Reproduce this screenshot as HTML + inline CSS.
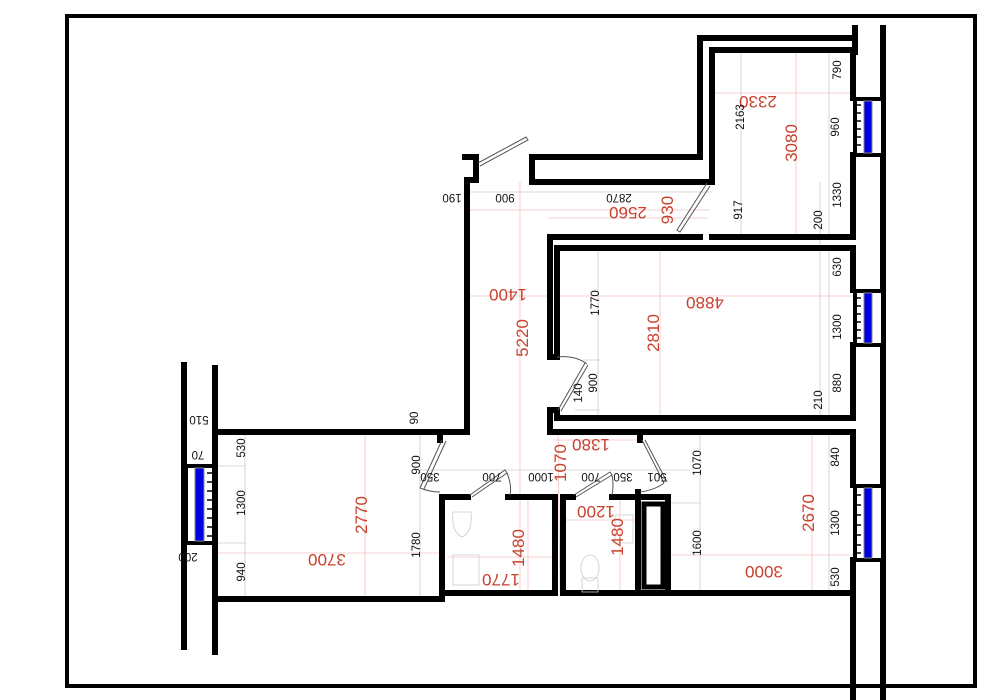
<!DOCTYPE html>
<html><head><meta charset="utf-8"><style>
html,body{margin:0;padding:0;background:#fff;}
svg{display:block;}
.w{fill:none;stroke:#000;stroke-width:6;stroke-linejoin:miter;stroke-linecap:square}
.r{font-family:"Liberation Sans",sans-serif;font-size:17px;fill:#c8412e}
.b{font-family:"Liberation Sans",sans-serif;font-size:11.5px;fill:#111}
.d{stroke:#f0c4c0;stroke-width:0.8;fill:none}
.g{stroke:#ccc;stroke-width:0.8;fill:none}
.dr{fill:none;stroke:#555;stroke-width:1}
</style></head><body>
<svg width="990" height="700" viewBox="0 0 990 700" xmlns="http://www.w3.org/2000/svg">
<rect x="67" y="16" width="908" height="670" fill="none" stroke="#000" stroke-width="4"/>

<g class="d">
<line x1="467" y1="210" x2="710" y2="210"/>
<line x1="548" y1="218" x2="708" y2="218"/>
<line x1="712" y1="93" x2="853" y2="93"/>
<line x1="467" y1="296" x2="853" y2="296"/>
<line x1="520" y1="182" x2="520" y2="595"/>
<line x1="558" y1="432" x2="560" y2="595"/>
<line x1="553" y1="440" x2="640" y2="440"/>
<line x1="660" y1="248" x2="660" y2="418"/>
<line x1="796" y1="50" x2="796" y2="237"/>
<line x1="215" y1="553" x2="440" y2="553"/>
<line x1="365" y1="432" x2="365" y2="599"/>
<line x1="668" y1="555" x2="853" y2="555"/>
<line x1="812" y1="432" x2="812" y2="595"/>
<line x1="447" y1="557" x2="555" y2="557"/>
<line x1="528" y1="497" x2="528" y2="595"/>
<line x1="564" y1="520" x2="638" y2="520"/>
<line x1="620" y1="497" x2="620" y2="595"/>
</g>
<g class="g">
<line x1="467" y1="192" x2="712" y2="192"/>
<line x1="420" y1="470" x2="690" y2="470"/>
<line x1="741" y1="50" x2="741" y2="237"/>
<line x1="820" y1="182" x2="820" y2="418"/>
<line x1="829" y1="50" x2="829" y2="237"/>
<line x1="829" y1="248" x2="829" y2="418"/>
<line x1="598" y1="248" x2="598" y2="418"/>
<line x1="583" y1="360" x2="600" y2="360"/>
<line x1="575" y1="410" x2="600" y2="410"/>
<line x1="245" y1="432" x2="245" y2="599"/>
<line x1="215" y1="466" x2="245" y2="466"/>
<line x1="215" y1="543" x2="245" y2="543"/>
<line x1="420" y1="432" x2="420" y2="599"/>
<line x1="700" y1="432" x2="700" y2="595"/>
<line x1="829" y1="432" x2="829" y2="595"/>
<line x1="668" y1="503" x2="700" y2="503"/>
</g>

<g class="w">
<polyline points="855,38 700,38 700,157 532,157 532,182 712,182 712,50 853,50 853,98"/>
<line x1="855" y1="28" x2="855" y2="52"/>
<polyline points="853,155 853,237 712,237"/>
<polyline points="700,237 550,237 550,357 557,357 557,248 853,248 853,290"/>
<polyline points="853,345 853,418 557,418 557,410 550,410 550,432 640,432"/>
<polyline points="640,440 640,432 853,432 853,485"/>
<line x1="853" y1="560" x2="853" y2="700"/>
<line x1="883" y1="28" x2="883" y2="700"/>
<polyline points="465,157 476,157 476,180 467,180 467,432 440,432 440,440"/>
<polyline points="440,432 216,432"/>
<line x1="184" y1="365" x2="184" y2="647"/>
<line x1="215" y1="368" x2="215" y2="652"/>
<polyline points="216,599 442,599 442,497 468,497"/>
<polyline points="508,497 555,497 555,593 442,593"/>
<polyline points="563,497 573,497"/>
<polyline points="612,497 638,497 638,492"/>
<polyline points="563,497 563,593 853,593"/>
<line x1="638" y1="492" x2="638" y2="593"/>
<line x1="668" y1="497" x2="668" y2="593"/>
<line x1="638" y1="497" x2="668" y2="497"/>
</g>
<rect x="644" y="504" width="19" height="83" fill="none" stroke="#000" stroke-width="5"/>

<g>
<rect x="855" y="99" width="28" height="56" fill="#fff" stroke="#000" stroke-width="4"/>
<rect x="864" y="101" width="8" height="52" fill="#0000e0" stroke="#888" stroke-width="1"/>
<rect x="855" y="291" width="28" height="54" fill="#fff" stroke="#000" stroke-width="4"/>
<rect x="864" y="293" width="8" height="50" fill="#0000e0" stroke="#888" stroke-width="1"/>
<rect x="855" y="486" width="28" height="74" fill="#fff" stroke="#000" stroke-width="4"/>
<rect x="864" y="488" width="8" height="70" fill="#0000e0" stroke="#888" stroke-width="1"/>
<rect x="186" y="466" width="28" height="77" fill="#fff" stroke="#000" stroke-width="4"/>
<rect x="195" y="468" width="9" height="73" fill="#0000e0" stroke="#888" stroke-width="1"/>
</g>
<g stroke="#000" stroke-width="1.5">
<path d="M857 105h4M857 113h4M857 121h4M857 129h4M857 137h4M857 145h4"/>
<path d="M857 298h4M857 306h4M857 314h4M857 322h4M857 330h4M857 338h4"/>
<path d="M857 495h4M857 505h4M857 515h4M857 525h4M857 535h4M857 545h4M857 553h4"/>
<path d="M207 473h5M207 482h5M207 491h5M207 500h5M207 509h5M207 518h5M207 527h5M207 536h5"/>
</g>

<g class="dr">
<path d="M478 163 L526 137 L528 140 L480 166"/>
<path d="M707 183 L677 230 L680 232 L710 186"/>
<path d="M585 363 L558 410 M588 365 L561 411"/>
<path d="M557 357 Q575 355 587 364"/>
<path d="M442 440 L420 488 M446 441 L424 489 M420 488 Q430 492 440 492"/>
<path d="M470 495 L505 470 L507 473 L472 497 M507 473 Q512 485 510 495"/>
<path d="M574 495 L610 472 L612 475 L576 497 M612 475 Q614 485 612 495"/>
<path d="M642 440 L664 483 M645 440 L667 482 M664 483 Q655 490 640 492"/>
</g>
<g class="g" stroke="#bbb">
<path d="M453 512 h18 q2 20 -9 25 q-11 -5 -9 -25z"/>
<rect x="453" y="555" width="26" height="30"/>
<ellipse cx="590" cy="568" rx="9" ry="13"/>
<rect x="582" y="578" width="16" height="14"/>
<path d="M615 515 h18 v28 h-18z"/>
</g>

<g class="r" text-anchor="middle">
<text transform="translate(758,102) rotate(180)" dy="6">2330</text>
<text transform="translate(791,143) rotate(-90)" dy="6">3080</text>
<text transform="translate(628,213) rotate(180)" dy="6">2560</text>
<text transform="translate(667,210) rotate(-90)" dy="6">930</text>
<text transform="translate(508,295) rotate(180)" dy="6">1400</text>
<text transform="translate(522,338) rotate(-90)" dy="6">5220</text>
<text transform="translate(705,303) rotate(180)" dy="6">4880</text>
<text transform="translate(653,333) rotate(-90)" dy="6">2810</text>
<text transform="translate(591,445) rotate(180)" dy="6">1380</text>
<text transform="translate(560,463) rotate(-90)" dy="6">1070</text>
<text transform="translate(361,515) rotate(-90)" dy="6">2770</text>
<text transform="translate(327,560) rotate(180)" dy="6">3700</text>
<text transform="translate(518,548) rotate(-90)" dy="6">1480</text>
<text transform="translate(501,580) rotate(180)" dy="6">1770</text>
<text transform="translate(596,512) rotate(180)" dy="6">1200</text>
<text transform="translate(617,537) rotate(-90)" dy="6">1480</text>
<text transform="translate(808,513) rotate(-90)" dy="6">2670</text>
<text transform="translate(764,572) rotate(180)" dy="6">3000</text>
</g>
<g class="b" text-anchor="middle">
<text transform="translate(837,70) rotate(-90)" dy="4">790</text>
<text transform="translate(835,127) rotate(-90)" dy="4">960</text>
<text transform="translate(837,195) rotate(-90)" dy="4">1330</text>
<text transform="translate(818,220) rotate(-90)" dy="4">200</text>
<text transform="translate(738,210) rotate(-90)" dy="4">917</text>
<text transform="translate(740,117) rotate(-90)" dy="4">2163</text>
<text transform="translate(452,198) rotate(180)" dy="4">190</text>
<text transform="translate(505,198) rotate(180)" dy="4">900</text>
<text transform="translate(619,198) rotate(180)" dy="4">2870</text>
<text transform="translate(837,267) rotate(-90)" dy="4">630</text>
<text transform="translate(837,327) rotate(-90)" dy="4">1300</text>
<text transform="translate(837,383) rotate(-90)" dy="4">880</text>
<text transform="translate(818,400) rotate(-90)" dy="4">210</text>
<text transform="translate(595,303) rotate(-90)" dy="4">1770</text>
<text transform="translate(593,383) rotate(-90)" dy="4">900</text>
<text transform="translate(578,393) rotate(-90)" dy="4">140</text>
<text transform="translate(199,420) rotate(180)" dy="4">510</text>
<text transform="translate(198,455) rotate(180)" dy="4">70</text>
<text transform="translate(188,557) rotate(180)" dy="4">200</text>
<text transform="translate(241,448) rotate(-90)" dy="4">530</text>
<text transform="translate(241,503) rotate(-90)" dy="4">1300</text>
<text transform="translate(241,572) rotate(-90)" dy="4">940</text>
<text transform="translate(414,418) rotate(-90)" dy="4">90</text>
<text transform="translate(416,465) rotate(-90)" dy="4">900</text>
<text transform="translate(430,477) rotate(180)" dy="4">350</text>
<text transform="translate(492,477) rotate(180)" dy="4">700</text>
<text transform="translate(541,477) rotate(180)" dy="4">1000</text>
<text transform="translate(591,477) rotate(180)" dy="4">700</text>
<text transform="translate(623,477) rotate(180)" dy="4">350</text>
<text transform="translate(657,477) rotate(180)" dy="4">501</text>
<text transform="translate(416,545) rotate(-90)" dy="4">1780</text>
<text transform="translate(697,463) rotate(-90)" dy="4">1070</text>
<text transform="translate(697,543) rotate(-90)" dy="4">1600</text>
<text transform="translate(835,457) rotate(-90)" dy="4">840</text>
<text transform="translate(835,523) rotate(-90)" dy="4">1300</text>
<text transform="translate(835,577) rotate(-90)" dy="4">530</text>
</g>
</svg>
</body></html>
